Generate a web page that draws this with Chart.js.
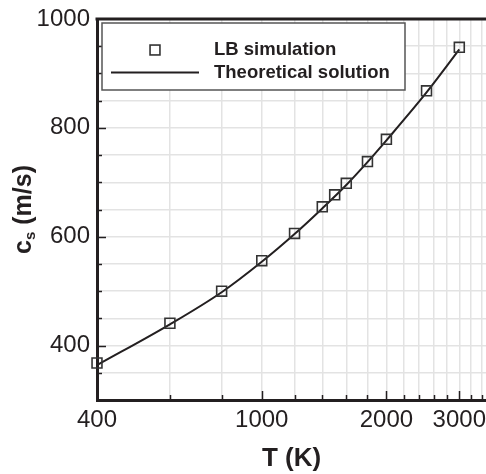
<!DOCTYPE html>
<html>
<head>
<meta charset="utf-8">
<script src="https://cdn.jsdelivr.net/npm/chart.js@4"></script>
<style>
  html, body { margin: 0; padding: 0; background: #fff; }
  #chart { display: block; }
</style>
</head>
<body>
<canvas id="chart" width="486" height="474"></canvas>
<script>
const seriesLabels = ['LB simulation', 'Theoretical solution'];
const simTemps = [400, 600, 800, 1000, 1200, 1400, 1500, 1600, 1800, 2000, 2500, 3000];
const simSpeeds = [368, 441, 500, 556, 606, 655, 677, 698, 738, 779, 868, 948];
const theoryTemps = [400, 600, 800, 1000, 1200, 1400, 1600, 1800, 2000, 2500, 3000];
const theorySpeeds = [364, 439, 498, 554, 605, 652, 695, 737, 777, 865, 944];
const xGridTicks = [400, 600, 800, 1000, 1200, 1400, 1600, 1800, 2000, 2200, 2400, 2600, 2800, 3000, 3200, 3400];
const xTickLabels = [400, 1000, 2000, 3000];
const yTickLabels = [400, 600, 800, 1000];

const FONT = "'Liberation Sans', Arial, Helvetica, sans-serif";
const INK = '#231f20';

function toPoints(xs, ys) {
  return xs.map((x, i) => ({ x: x, y: ys[i] }));
}

// inward tick marks + top frame line
const frameTicks = {
  id: 'frameTicks',
  afterDraw(chart) {
    const { ctx, chartArea: a, scales: { x, y } } = chart;
    ctx.save();
    ctx.strokeStyle = INK;
    ctx.lineWidth = 1.5;
    xGridTicks.forEach((v) => {
      if (v === 400) return;
      const px = Math.round(x.getPixelForValue(v)) + 0.5;
      const len = xTickLabels.includes(v) ? 9 : 5;
      ctx.beginPath();
      ctx.moveTo(px, a.bottom);
      ctx.lineTo(px, a.bottom - len);
      ctx.stroke();
    });
    for (let v = 350; v < 1000; v += 50) {
      const py = Math.round(y.getPixelForValue(v)) + 0.5;
      const len = yTickLabels.includes(v) ? 9 : 5;
      ctx.beginPath();
      ctx.moveTo(a.left, py);
      ctx.lineTo(a.left + len, py);
      ctx.stroke();
    }
    ctx.lineWidth = 3;
    ctx.beginPath();
    ctx.moveTo(a.left - 1.5, a.top);
    ctx.lineTo(a.right, a.top);
    ctx.stroke();
    ctx.restore();
  }
};

// y title with subscript
const yTitle = {
  id: 'yTitle',
  afterDraw(chart) {
    const { ctx, chartArea: a } = chart;
    const big = 'bold 25px ' + FONT;
    const small = 'bold 15px ' + FONT;
    ctx.save();
    ctx.fillStyle = INK;
    ctx.textBaseline = 'alphabetic';
    ctx.textAlign = 'left';
    ctx.font = big;
    const wC = ctx.measureText('c').width;
    const wRest = ctx.measureText(' (m/s)').width;
    ctx.font = small;
    const wS = ctx.measureText('s').width;
    const total = wC + wS + wRest;
    ctx.translate(31, (a.top + a.bottom) / 2);
    ctx.rotate(-Math.PI / 2);
    let cx = -total / 2;
    ctx.font = big;
    ctx.fillText('c', cx, 0);
    cx += wC;
    ctx.font = small;
    ctx.fillText('s', cx, 4);
    cx += wS;
    ctx.font = big;
    ctx.fillText(' (m/s)', cx, 0);
    ctx.restore();
  }
};

// boxed legend inside the plot
const boxLegend = {
  id: 'boxLegend',
  afterDraw(chart) {
    const { ctx, chartArea: a } = chart;
    const ds = chart.data.datasets;
    const bx = a.left + 5, by = a.top + 4, bw = 303, bh = 67;
    ctx.save();
    ctx.fillStyle = '#fff';
    ctx.fillRect(bx, by, bw, bh);
    ctx.strokeStyle = '#555';
    ctx.lineWidth = 1.5;
    ctx.strokeRect(bx, by, bw, bh);

    // marker entry
    const s = ds[0].pointRadius * Math.SQRT1_2;
    ctx.strokeStyle = ds[0].borderColor;
    ctx.lineWidth = ds[0].pointBorderWidth;
    ctx.strokeRect(155 - s, 50 - s, 2 * s, 2 * s);
    // line entry
    ctx.strokeStyle = ds[1].borderColor;
    ctx.lineWidth = ds[1].borderWidth;
    ctx.beginPath();
    ctx.moveTo(111, 72.5);
    ctx.lineTo(199, 72.5);
    ctx.stroke();

    ctx.fillStyle = INK;
    ctx.font = 'bold 18.5px ' + FONT;
    ctx.textAlign = 'left';
    ctx.textBaseline = 'middle';
    ctx.fillText(ds[0].label, 214, 50);
    ctx.fillText(ds[1].label, 214, 72.5);
    ctx.restore();
  }
};

const config = {
  type: 'scatter',
  data: {
    datasets: [
      {
        label: seriesLabels[0],
        data: toPoints(simTemps, simSpeeds),
        showLine: false,
        pointStyle: 'rect',
        pointRadius: 7,
        pointBorderWidth: 1.6,
        borderColor: '#333',
        backgroundColor: 'rgba(0,0,0,0)',
        clip: false,
      },
      {
        label: seriesLabels[1],
        data: toPoints(theoryTemps, theorySpeeds),
        showLine: true,
        pointRadius: 0,
        borderColor: INK,
        borderWidth: 2,
        cubicInterpolationMode: 'monotone',
        clip: false,
      },
    ],
  },
  plugins: [frameTicks, yTitle, boxLegend],
  options: {
    responsive: false,
    animation: false,
    devicePixelRatio: 1,
    layout: { autoPadding: false, padding: { top: 19, right: 0, left: 0, bottom: 0 } },
    plugins: {
      legend: { display: false },
      tooltip: { enabled: false },
    },
    scales: {
      x: {
        type: 'logarithmic',
        min: 400,
        max: 3480,
        afterBuildTicks: (scale) => {
          scale.ticks = xGridTicks.map((v) => ({ value: v }));
        },
        afterFit: (scale) => {
          scale.height = 74;
          scale.paddingLeft = 0;
          scale.paddingRight = 0;
        },
        grid: { color: '#e3e3e3', lineWidth: 1.5, drawTicks: false },
        border: { color: INK, width: 3 },
        ticks: {
          autoSkip: false,
          maxRotation: 0,
          padding: 6,
          color: INK,
          font: { family: FONT, size: 24 },
          callback: (v) => (xTickLabels.includes(v) ? String(v) : ''),
        },
        title: {
          display: true,
          text: 'T (K)',
          color: INK,
          font: { family: FONT, size: 26, weight: 'bold', lineHeight: 1 },
          padding: { top: 0, bottom: 2 },
        },
      },
      y: {
        type: 'linear',
        min: 300,
        max: 1000,
        afterFit: (scale) => {
          scale.width = 97;
          scale.paddingTop = 0;
          scale.paddingBottom = 0;
        },
        grid: { color: '#e3e3e3', lineWidth: 1.5, drawTicks: false },
        border: { color: INK, width: 3 },
        ticks: {
          stepSize: 50,
          autoSkip: false,
          padding: 7,
          color: INK,
          font: { family: FONT, size: 24 },
          callback: (v) => (yTickLabels.includes(v) ? String(v) : ''),
        },
      },
    },
  },
};

new Chart(document.getElementById('chart'), config);
</script>
</body>
</html>
